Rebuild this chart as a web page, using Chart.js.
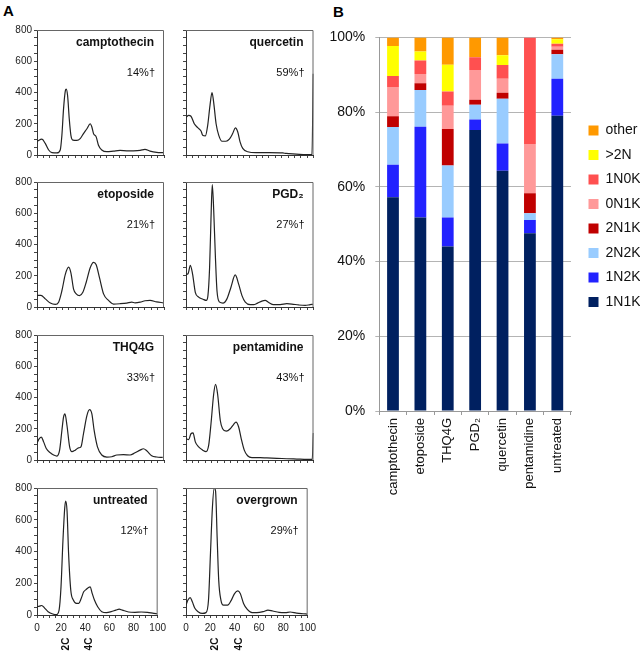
<!DOCTYPE html>
<html><head><meta charset="utf-8">
<script src="https://cdn.jsdelivr.net/npm/chart.js@4.4.1/dist/chart.umd.min.js"></script>
<style>
html,body{margin:0;padding:0;background:#fff}
body{width:640px;height:654px;position:relative;overflow:hidden;font-family:"Liberation Sans",Arial,sans-serif}
canvas{position:absolute}
.lbl{position:absolute;font-weight:bold;font-size:15px;line-height:15px;color:#000}
</style></head><body>
<div class="lbl" style="left:3px;top:3px">A</div>
<div class="lbl" style="left:333px;top:4px">B</div>
<script>
// ---------- Panel A data (DNA content histograms) ----------
const camptothecinX = [0,3.9,6.5,9.2,11.8,15.7,18.3,19.6,20.9,22.3,23,24.1,25.4,26.7,28.3,31.4,34,36.6,39.3,41.9,43.2,44.5,46.6,48.4,51,55,60.2,65.4,70.7,75.9,81.2,85,89,94.2,99.5];
const camptothecinY = [88,101,74,32,15,13,32,126,295,410,421,379,232,126,95,93,105,137,168,200,179,137,116,63,32,21,25,29,27,27,29,36,25,17,15];
const quercetinX = [0,2.1,3.9,6.5,9.2,11.8,13.1,15.2,17,18.8,20.4,21.7,23.6,25.7,28.3,31.4,34,36.6,38.7,40.6,42.4,44.5,48.4,55,65.4,75.9,78.5,86.4,94.2,98.8,99.8];
const quercetinY = [242,253,248,200,175,154,126,122,189,316,400,337,200,126,88,88,101,137,173,147,84,42,21,15,15,13,10,6,2,4,520];
const etoposideX = [0,3.1,6.5,10.5,14.4,17,19.6,22.3,24.9,26.7,28.8,30.9,33.5,36.1,38.7,41.9,44.5,46.6,49.2,52.4,56.3,60.2,65.4,70.7,74.6,77.2,81.2,85.1,89,94.2,99.5];
const etoposideY = [73,75,52,25,17,31,104,209,255,219,115,84,73,94,157,251,286,271,188,84,42,19,21,25,31,27,31,40,42,33,27];
const pgd2X = [0,1.6,3.4,5.2,7.3,9.9,13.3,15.9,17.2,18.5,19.6,20.6,21.7,23,24.3,26.4,29,32.1,35.2,38.6,41.3,43.9,46.5,50.4,53,56.1,59.5,62.1,64.8,68.7,73.9,79.1,83,88.3,93.5,97.4,99.5];
const pgd2Y = [209,213,267,209,94,63,50,42,73,251,564,783,626,334,104,31,25,52,125,205,146,73,31,15,15,25,38,42,29,15,15,21,19,13,10,15,17];
const thq4gX = [0,1.8,3.4,5.2,7.3,10.5,13.1,15.7,17.8,19.6,20.9,22,23.6,25.7,27.5,30.1,32.7,34.6,36.6,39.3,41.4,43.2,45,47.6,51,55,58.9,62.8,68.1,73.3,77.2,81.2,83.8,86.4,90.3,94.2,99];
const thq4gY = [109,137,147,116,74,46,32,25,63,189,274,295,221,84,53,63,78,84,168,284,322,295,189,84,32,19,21,32,34,32,46,63,72,59,27,19,17];
const pentamidineX = [0,2.1,3.9,5.5,7.3,9.9,13.1,15.7,17.8,19.6,21.7,23.2,24.8,26.9,28.7,31.6,34.7,37.3,39.2,41.3,43.3,45.7,48.3,51.7,58.2,63.4,71.3,79.1,86.9,94.8,99,99.9];
const pentamidineY = [137,131,168,173,116,84,63,53,95,232,421,484,421,253,200,185,200,227,242,211,137,63,27,15,15,13,11,8,6,4,4,173];
const untreatedX = [0,2.1,3.9,6.5,9.2,13.1,16.2,18.3,19.9,21.5,23,23.8,24.9,26.2,28,30.1,32.7,34.6,36.6,38.7,40.6,42.7,44,45.8,47.6,50.3,53.7,57.6,61.5,65.4,68.1,70.7,75.9,81.2,86.4,91.6,96.9,99.5];
const untreatedY = [52,56,60,42,21,6,2,31,177,468,676,717,655,385,156,94,73,73,104,146,160,173,177,135,94,52,21,15,21,31,37,31,19,17,19,17,10,8];
const overgrownX = [0,1.6,3.4,5.2,7.3,9.9,13.3,16.4,18.5,20.1,21.7,23.2,24.3,25.6,26.9,28.7,30.8,34.2,37.3,39.9,42.6,44.6,47.3,50.4,54.3,58.2,63.4,67.4,71.3,76.5,81.7,85.6,90.9,96.1,99.5];
const overgrownY = [62,94,110,83,42,21,10,15,94,385,676,800,780,489,218,94,62,62,94,135,152,135,73,35,15,15,21,31,25,17,15,19,12,8,6];

const histNames = ['camptothecin','quercetin','etoposide','PGD\u2082','THQ4G','pentamidine','untreated','overgrown'];
const histPct = ['14%\u2020','59%\u2020','21%\u2020','27%\u2020','33%\u2020','43%\u2020','12%\u2020','29%\u2020'];
const histXs = [camptothecinX, quercetinX, etoposideX, pgd2X, thq4gX, pentamidineX, untreatedX, overgrownX];
const histYs = [camptothecinY, quercetinY, etoposideY, pgd2Y, thq4gY, pentamidineY, untreatedY, overgrownY];
const ploidyValues = [24, 43.5];
const ploidyLabels = ['2C', '4C'];

// ---------- Panel B data (stacked percentages) ----------
const categories = ['camptothecin','etoposide','THQ4G','PGD\u2082','quercetin','pentamidine','untreated'];
const s1N1K  = [57.2, 51.8, 44.0, 75.2, 64.3, 47.6, 79.0];
const s1N2K  = [8.7, 24.3, 7.8, 2.8, 7.3, 3.5, 9.9];
const s2N2K  = [10.1, 9.8, 13.9, 4.0, 12.0, 1.8, 6.6];
const s2N1K  = [2.9, 1.8, 9.8, 1.3, 1.6, 5.4, 1.2];
const s0N1K  = [7.8, 2.5, 6.2, 8.0, 3.7, 13.2, 0.8];
const s1N0K  = [3.0, 3.6, 3.8, 3.4, 3.7, 28.5, 0.8];
const sOver2N = [8.0, 2.4, 7.2, 0, 2.6, 0, 1.2];
const sOther = [2.3, 3.8, 7.3, 5.3, 4.8, 0, 0.5];
const seriesNames = ['1N1K','1N2K','2N2K','2N1K','0N1K','1N0K','>2N','other'];
const seriesColors = ['#002060','#2222FF','#99CCFF','#C00000','#FF9999','#FF5050','#FFFF00','#FF9900'];
const seriesData = [s1N1K, s1N2K, s2N2K, s2N1K, s0N1K, s1N0K, sOver2N, sOther];

const FONT = '"Liberation Sans", Arial, Helvetica, sans-serif';
Chart.defaults.font.family = FONT;

const panelDeco = {
  id: 'panelDeco',
  afterDraw(chart, args, opts) {
    const {ctx, chartArea: a} = chart;
    ctx.save();
    ctx.strokeStyle = '#666';
    ctx.lineWidth = 1;
    ctx.beginPath();
    ctx.moveTo(a.left, a.top + 0.5);
    ctx.lineTo(a.right - 0.5, a.top + 0.5);
    ctx.lineTo(a.right - 0.5, a.bottom);
    ctx.stroke();
    ctx.fillStyle = '#111';
    ctx.textAlign = 'right';
    ctx.textBaseline = 'middle';
    ctx.font = 'bold 12px ' + FONT;
    ctx.fillText(opts.name, a.right - 10, a.top + 13);
    ctx.font = '11px ' + FONT;
    ctx.fillText(opts.pct, a.right - 9, a.top + 43);
    if (opts.markers) {
      const xs = chart.scales.x;
      ctx.font = 'bold 10px ' + FONT;
      ctx.textAlign = 'center';
      ploidyValues.forEach((v, k) => {
        ctx.save();
        ctx.translate(xs.getPixelForValue(v), a.bottom + 29);
        ctx.rotate(-Math.PI / 2);
        ctx.fillText(ploidyLabels[k], 0, 0);
        ctx.restore();
      });
    }
    ctx.restore();
  }
};

const rowTops = [30, 182, 335, 488];
const plotH = 127;
for (let i = 0; i < 8; i++) {
  const row = Math.floor(i / 2), col = i % 2;
  const bottomRow = row === 3;
  const left = col === 0 ? 0 : 170;
  const width = col === 0 ? 170 : 150;
  const leftW = col === 0 ? 37 : 16;
  const rightPad = col === 0 ? 6 : 6.5;
  const bottomH = bottomRow ? 46 : 6;
  const height = 10 + plotH + bottomH;
  const cv = document.createElement('canvas');
  cv.width = width; cv.height = height;
  cv.style.left = left + 'px'; cv.style.top = (rowTops[row] - 10) + 'px';
  cv.style.width = width + 'px'; cv.style.height = height + 'px';
  document.body.appendChild(cv);
  const pts = histXs[i].map((x, k) => ({x: x, y: histYs[i][k]}));
  new Chart(cv, {
    type: 'line',
    data: {datasets: [{data: pts, borderColor: '#222', borderWidth: 1.2, pointRadius: 0, cubicInterpolationMode: 'monotone', fill: false}]},
    options: {
      responsive: false, animation: false, events: [],
      layout: {padding: {top: 10, right: rightPad, left: 0, bottom: 0}},
      plugins: {legend: {display: false}, tooltip: {enabled: false},
        panelDeco: {name: histNames[i], pct: histPct[i], markers: bottomRow}},
      scales: {
        x: {type: 'linear', min: 0, max: 100,
          afterFit(s) { s.height = bottomH; },
          ticks: {stepSize: 5, autoSkip: false, maxRotation: 0, padding: 4, color: '#222', font: {size: 10},
            callback: v => (bottomRow && v % 20 === 0) ? String(v) : ''},
          grid: {drawOnChartArea: false, tickLength: 3, color: '#444'},
          border: {color: '#333', width: 1}},
        y: {min: 0, max: 800,
          afterFit(s) { s.width = leftW; },
          ticks: {stepSize: 50, autoSkip: false, padding: 2, color: '#222', font: {size: 10},
            callback: v => (col === 0 && v % 200 === 0) ? String(v) : ''},
          grid: {drawOnChartArea: false, tickLength: 3, color: '#444'},
          border: {color: '#333', width: 1}}
      }
    },
    plugins: [panelDeco]
  });
}

// ---------- Panel B ----------
const legendPlace = {
  id: 'legendPlace',
  afterLayout(chart) {
    const l = chart.legend;
    const w = l.right - l.left;
    l.left = 258; l.right = 258 + w;
    const h = l.bottom - l.top;
    l.top = 94; l.bottom = 94 + h;
  }
};
const cvB = document.createElement('canvas');
cvB.width = 320; cvB.height = 482;
cvB.style.left = '320px'; cvB.style.top = '19px';
cvB.style.width = '320px'; cvB.style.height = '482px';
document.body.appendChild(cvB);
new Chart(cvB, {
  type: 'bar',
  data: {
    labels: categories,
    datasets: seriesNames.map((n, k) => ({label: n, data: seriesData[k], backgroundColor: seriesColors[k], borderWidth: 0,
      barPercentage: 0.43, categoryPercentage: 1}))
  },
  options: {
    responsive: false, animation: false, events: [],
    layout: {padding: {top: 2, right: 7, left: 0, bottom: 0}},
    plugins: {
      tooltip: {enabled: false},
      legend: {position: 'right', align: 'start', reverse: true, maxWidth: 62,
        labels: {boxWidth: 10, boxHeight: 10, padding: 10.5, color: '#111', font: {size: 14}}}
    },
    scales: {
      x: {stacked: true,
        afterFit(s) { s.height = 90; },
        ticks: {minRotation: 90, maxRotation: 90, autoSkip: false, padding: 3, color: '#111', font: {size: 13}},
        grid: {drawOnChartArea: false, tickLength: 4, color: '#999', offset: true},
        border: {color: '#999'}},
      y: {stacked: true, min: 0, max: 100,
        afterFit(s) { s.width = 59.3; },
        ticks: {stepSize: 20, padding: 10, color: '#111', font: {size: 14}, callback: v => v + '%'},
        grid: {color: '#B4B4B4', tickLength: 4},
        border: {color: '#999'}}
    }
  },
  plugins: [legendPlace]
});
</script>
</body></html>
